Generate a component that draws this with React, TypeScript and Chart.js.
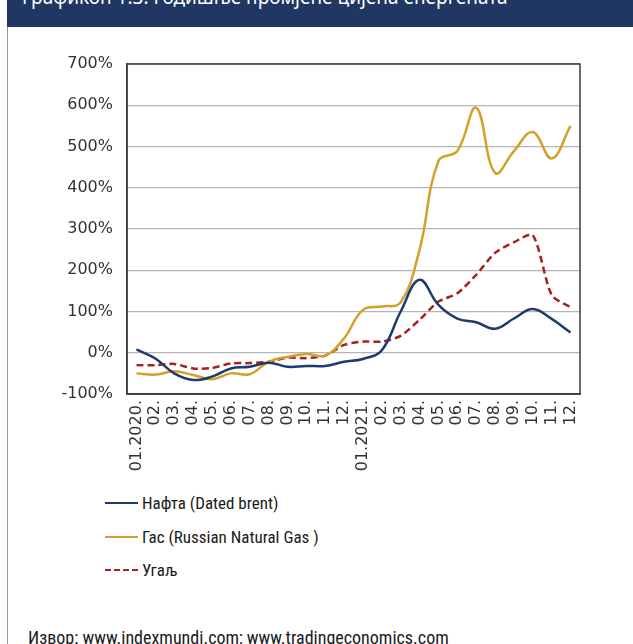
import React, { useEffect, useRef } from "react";
import { Chart, registerables } from "chart.js";

Chart.register(...registerables);

const categories = [
  "01.2020.", "02.", "03.", "04.", "05.", "06.", "07.", "08.", "09.", "10.", "11.", "12.",
  "01.2021.", "02.", "03.", "04.", "05.", "06.", "07.", "08.", "09.", "10.", "11.", "12.",
];

const oil = [8, -14, -50, -66, -58, -38, -34, -24, -34, -32, -32, -22, -15, 6, 100, 177, 116, 83, 74, 58, 83, 106, 82, 49];
const gas = [-50, -53, -45, -54, -64, -50, -52, -22, -10, -3, -7, 35, 104, 112, 122, 250, 465, 489, 594, 436, 489, 535, 471, 550];
const coal = [-30, -30, -27, -38, -37, -26, -25, -22, -12, -13, -7, 19, 27, 27, 41, 80, 124, 144, 189, 242, 268, 285, 140, 110];

const seriesNames = ["Нафта (Dated brent)", "Гас (Russian Natural Gas )", "Угаљ"];
const seriesColors = ["#1f3b6e", "#d4a02c", "#a8201f"];

const titleText = "Графикон 1.3: Годишње промјене цијена енергената";
const sourceText = "Извор: www.indexmundi.com; www.tradingeconomics.com";

const borderPlugin = {
  id: "frame",
  afterDatasetsDraw(chart: any) {
    const { ctx, chartArea } = chart;
    ctx.save();
    ctx.strokeStyle = "#3a3a3a";
    ctx.lineWidth = 1.5;
    ctx.strokeRect(chartArea.left, chartArea.top, chartArea.right - chartArea.left, chartArea.bottom - chartArea.top);
    ctx.restore();
  },
};

export default function App() {
  const canvasRef = useRef<HTMLCanvasElement | null>(null);

  useEffect(() => {
    document.body.style.margin = "0";
    const canvas = canvasRef.current;
    if (!canvas) return;
    const tickFont = { family: "'DejaVu Sans', sans-serif", size: 16 };
    const chart = new Chart(canvas, {
      type: "line",
      data: {
        labels: categories,
        datasets: [
          {
            label: seriesNames[0],
            data: oil,
            borderColor: seriesColors[0],
            borderWidth: 2.5,
            pointRadius: 0,
            tension: 0.4,
            fill: false,
          },
          {
            label: seriesNames[1],
            data: gas,
            borderColor: seriesColors[1],
            borderWidth: 2.5,
            pointRadius: 0,
            tension: 0.4,
            fill: false,
          },
          {
            label: seriesNames[2],
            data: coal,
            borderColor: seriesColors[2],
            borderWidth: 2.5,
            borderDash: [7, 4],
            pointRadius: 0,
            tension: 0.25,
            fill: false,
          },
        ],
      },
      options: {
        animation: false,
        responsive: false,
        maintainAspectRatio: false,
        layout: { padding: { top: 64, right: 53, left: 0, bottom: 0 } },
        plugins: {
          legend: { display: false },
          tooltip: { enabled: false },
        },
        scales: {
          x: {
            offset: true,
            grid: { display: false, drawTicks: false },
            border: { display: true, color: "#3a3a3a", width: 1.5 },
            ticks: {
              font: tickFont,
              color: "#333333",
              minRotation: 90,
              maxRotation: 90,
              autoSkip: false,
              padding: 6,
            },
            afterFit: (scale: any) => {
              scale.height = 86;
            },
          },
          y: {
            min: -100,
            max: 700,
            grid: { color: "#b5b5b5", lineWidth: 1.2, drawTicks: false },
            border: { display: true, color: "#3a3a3a", width: 1.5 },
            ticks: {
              stepSize: 100,
              font: tickFont,
              color: "#333333",
              padding: 14,
              callback: (v: any) => `${v}%`,
            },
            afterFit: (scale: any) => {
              scale.width = 127;
            },
          },
        },
      },
      plugins: [borderPlugin],
    });
    return () => chart.destroy();
  }, []);

  const legendFont = "'Liberation Sans Narrow', 'Roboto Condensed', Roboto, sans-serif";

  return (
    <div style={{ position: "relative", width: 633, height: 644, overflow: "hidden", background: "#ffffff" }}>
      <div style={{ position: "absolute", left: 7, top: 0, width: 626, height: 27, background: "#1f3762", overflow: "hidden" }}>
        <div style={{ position: "absolute", left: 15, top: -12, color: "#ffffff", fontFamily: "'Noto Sans', sans-serif", fontSize: 19, lineHeight: "19px", whiteSpace: "nowrap" }}>
          {titleText}
        </div>
      </div>
      <div style={{ position: "absolute", left: 7, top: 27, width: 1, height: 617, background: "#9a9a9a" }} />
      <canvas ref={canvasRef} width={633} height={480} style={{ position: "absolute", left: 0, top: 0, width: 633, height: 480 }} />
      {seriesNames.map((name, i) => (
        <div key={name} style={{ position: "absolute", left: 105, top: 493 + i * 33.5, height: 20, display: "flex", alignItems: "center" }}>
          <div style={{ width: 33, height: 0, borderTop: i === 2 ? `2.5px dashed ${seriesColors[i]}` : `2.5px solid ${seriesColors[i]}` }} />
          <span style={{ marginLeft: 4, fontFamily: legendFont, fontSize: 17, color: "#1a1a1a", whiteSpace: "nowrap" }}>{name}</span>
        </div>
      ))}
      <div style={{ position: "absolute", left: 28, top: 629, fontFamily: legendFont, fontSize: 18, lineHeight: "18px", color: "#1a1a1a", whiteSpace: "nowrap" }}>
        {sourceText}
      </div>
    </div>
  );
}
